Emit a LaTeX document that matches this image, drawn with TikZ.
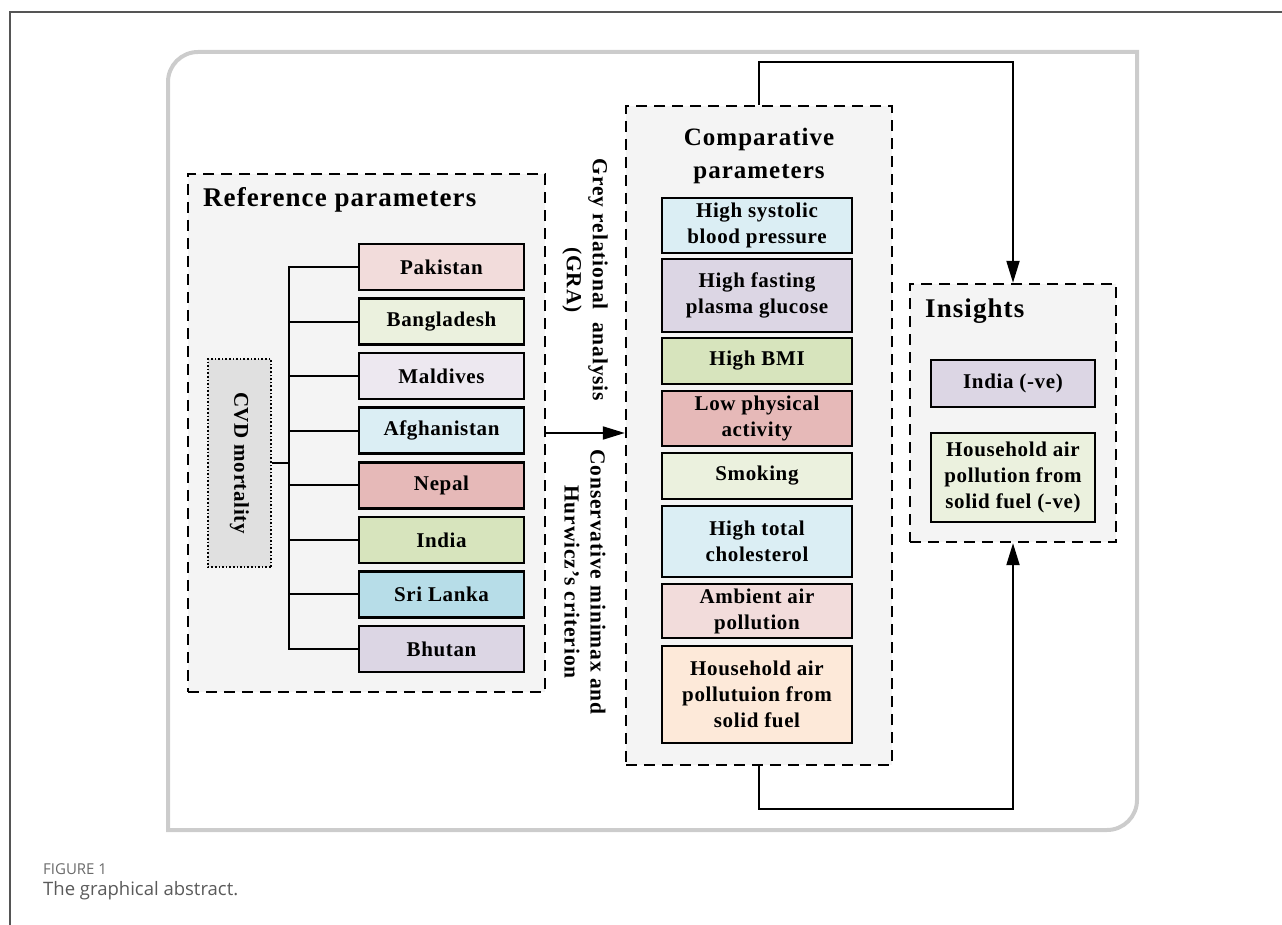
\documentclass[tikz,border=0pt]{standalone}
\usepackage{fontspec}
\setmainfont{Liberation Serif}[LetterSpace=3]
\newfontfamily\titlefont{Liberation Serif}[LetterSpace=4]
\newfontfamily\capfont{Open Sans}
\usetikzlibrary{arrows.meta, positioning}

\definecolor{panelgrey}{HTML}{F4F4F4}
\definecolor{framegrey}{HTML}{CCCCCC}
\definecolor{pagegrey}{HTML}{555555}
\definecolor{cvdgrey}{HTML}{E0E0E0}
\definecolor{pinkfill}{HTML}{F2DCDB}
\definecolor{palegreen}{HTML}{EBF1DE}
\definecolor{palelilac}{HTML}{EDE8F0}
\definecolor{paleblue}{HTML}{DBEEF4}
\definecolor{rosefill}{HTML}{E6B9B8}
\definecolor{greenfill}{HTML}{D7E4BD}
\definecolor{bluefill}{HTML}{B7DDE8}
\definecolor{lilacfill}{HTML}{DCD6E4}
\definecolor{peachfill}{HTML}{FDE9D9}
\definecolor{capgrey}{HTML}{6A6A6A}
\definecolor{captext}{HTML}{5A5A5A}

\tikzset{
  panel/.style={draw=black, line width=2.4pt, dash pattern=on 11pt off 7pt, fill=panelgrey, inner sep=0pt},
  paneltitle/.style={inner sep=0pt, font=\titlefont\fontsize{27}{33}\selectfont\bfseries},
  itembox/.style={draw=black, line width=2.6pt, inner sep=0pt, align=center,
    font=\fontsize{21}{26}\selectfont\bfseries, minimum width=190pt},
  ctybox/.style={itembox, minimum width=165pt, minimum height=46pt},
  rotlabel/.style={inner sep=0pt, rotate=-90, align=center, font=\titlefont\fontsize{21.5}{26}\selectfont\bfseries},
  link/.style={line width=2pt},
  arr/.style={link, -{Triangle[length=22pt,width=13pt]}},
}

\begin{document}
\begin{tikzpicture}[x=1pt, y=-1pt]
  \useasboundingbox (0,0) rectangle (1282,925);

  % page edge and outer frame
  \draw[line width=1.5pt, pagegrey] (10,925) -- (10,12) -- (1282,12);
  \draw[line width=4pt, framegrey] (168,830) -- (168,82) .. controls (168,65.4) and (181.4,52) .. (198,52)
    -- (1137,52) -- (1137,800) .. controls (1137,816.6) and (1123.6,830) .. (1107,830) -- cycle;

  % reference parameters
  \node[panel, minimum width=357pt, minimum height=518pt] (refpanel) at (366.5,433) {};
  \node[paneltitle, anchor=base west] (reftitle) at (203,207) {Reference parameters};

  \node[ctybox, fill=pinkfill] (pak) at (441.5,267) {Pakistan};
  \node[ctybox, fill=palegreen] (bgd) at (441.5,321.6) {Bangladesh};
  \node[ctybox, fill=palelilac] (mdv) at (441.5,376.1) {Maldives};
  \node[ctybox, fill=paleblue] (afg) at (441.5,430.7) {Afghanistan};
  \node[ctybox, fill=rosefill] (npl) at (441.5,485.3) {Nepal};
  \node[ctybox, fill=greenfill] (ind) at (441.5,539.9) {India};
  \node[ctybox, fill=bluefill] (lka) at (441.5,594.4) {Sri Lanka};
  \node[ctybox, fill=lilacfill] (btn) at (441.5,649) {Bhutan};

  \node[draw=black, line width=1.6pt, dash pattern=on 1.6pt off 2pt, fill=cvdgrey, rotate=-90,
    minimum width=208pt, minimum height=63pt, inner sep=0pt,
    font=\fontsize{21}{26}\selectfont\bfseries] (cvd) at (239.5,463) {CVD mortality};

  \coordinate (trunk) at (289,463);
  \draw[link] (pak.west) -- (pak.west -| trunk) -- (btn.west -| trunk) -- (btn.west);
  \foreach \c in {bgd, mdv, afg, npl, ind, lka}
    \draw[link] (\c.west) -- (\c.west -| trunk);
  \draw[link] (cvd.north) -- (trunk);

  % methods
  \node[rotlabel] (gra) at (585,280) {Grey relational\ \ analysis\\(GRA)};
  \node[rotlabel] (cmh) at (585,582) {Conservative minimax and\\Hurwicz’s criterion};

  % comparative parameters
  \node[panel, minimum width=266pt, minimum height=659pt] (comppanel) at (759,435.5) {};
  \node[paneltitle, align=center, font=\titlefont\fontsize{25}{33}\selectfont\bfseries] (comptitle) at (759,156) {Comparative\\parameters};

  \node[itembox, minimum height=55pt, fill=paleblue] (sbp) at (757,225.5) {High systolic\\blood pressure};
  \node[itembox, minimum height=73pt, fill=lilacfill] (fpg) at (757,295.5) {High fasting\\plasma glucose};
  \node[itembox, minimum height=46pt, fill=greenfill] (bmi) at (757,361) {High BMI};
  \node[itembox, minimum height=55pt, fill=rosefill] (lpa) at (757,418.5) {Low physical\\activity};
  \node[itembox, minimum height=46pt, fill=palegreen] (smk) at (757,476) {Smoking};
  \node[itembox, minimum height=71pt, fill=paleblue] (chol) at (757,541.5) {High total\\cholesterol};
  \node[itembox, minimum height=54pt, fill=pinkfill] (amb) at (757,611) {Ambient air\\pollution};
  \node[itembox, minimum height=97pt, fill=peachfill] (hap) at (757,694.5) {Household air\\pollutuion from\\solid fuel};

  % insights
  \node[panel, minimum width=206pt, minimum height=258pt] (inspanel) at (1013,413) {};
  \node[paneltitle, anchor=base west] (institle) at (925,317) {Insights};
  \node[itembox, minimum width=164pt, minimum height=47pt, fill=lilacfill] (indneg) at (1013,383.5) {India (-ve)};
  \node[itembox, minimum width=164pt, minimum height=89pt, fill=palegreen] (fuelneg) at (1013,477.5) {Household air\\pollution from\\solid fuel (-ve)};

  % connectors
  \draw[arr] (refpanel.east) -- (refpanel.east -| comppanel.west);
  \draw[arr] (comppanel.north) -- ++(0,-43) -| (inspanel.north);
  \draw[arr] (comppanel.south) -- ++(0,43) -| (inspanel.south);

  % caption
  \node[anchor=base west, inner sep=0pt, font=\capfont\fontsize{15}{17}\selectfont, text=capgrey] (fignum) at (43,874) {FIGURE 1};
  \node[anchor=base west, inner sep=0pt, font=\capfont\fontsize{18.5}{21}\selectfont, text=captext] (figcap) at (43,895) {The graphical abstract.};
\end{tikzpicture}
\end{document}
